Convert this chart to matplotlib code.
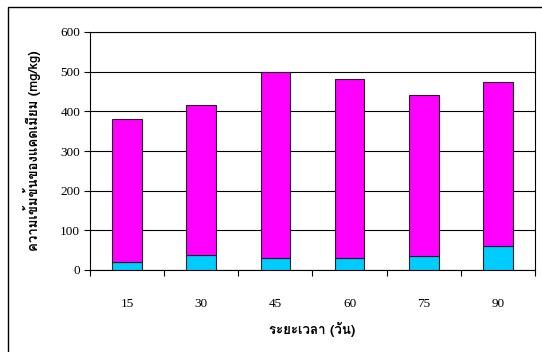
import matplotlib
matplotlib.use("Agg")
import matplotlib.pyplot as plt
from matplotlib import font_manager
from matplotlib.ft2font import FT2Font
from matplotlib.patches import Rectangle
import numpy as np

days = ["15", "30", "45", "60", "75", "90"]
cd_bottom = [20, 39, 31, 29, 35, 60]
cd_total = [380, 417, 498, 481, 442, 475]
cd_top = [t - b for t, b in zip(cd_total, cd_bottom)]
yticks = [0, 100, 200, 300, 400, 500, 600]


def thai_font():
    # pick the first installed font that has Thai glyphs
    for f in font_manager.fontManager.ttflist:
        try:
            if FT2Font(f.fname).get_char_index(ord("ก")):
                return f.name
        except Exception:
            pass
    return "DejaVu Sans"


thai = thai_font()
plt.rcParams["font.family"] = ["Liberation Serif", thai]

fig = plt.figure(figsize=(5.42, 3.52), dpi=100)
ax = fig.add_axes([90 / 542, 1 - 270 / 352, 445 / 542, 238 / 352])

x = np.arange(len(days))
ax.bar(x, cd_bottom, width=0.4, color="#00CCFF", edgecolor="#222222", linewidth=0.8, zorder=3)
ax.bar(x, cd_top, bottom=cd_bottom, width=0.4, color="#FF00FF", edgecolor="#222222", linewidth=0.8, zorder=3)

ax.set_xlim(-0.5, len(days) - 0.5)
ax.set_ylim(0, 600)
ax.set_yticks(yticks)
ax.yaxis.grid(True, color="black", linewidth=0.8, zorder=0)

ax.set_xticks(x)
ax.set_xticklabels(days, fontsize=9.5)
ax.set_xticks(np.arange(len(days) + 1) - 0.5, minor=True)
ax.tick_params(axis="x", which="major", length=0, pad=20)
ax.tick_params(axis="x", which="minor", length=4, direction="out", width=0.8)
ax.tick_params(axis="y", length=4, width=0.8, labelsize=9.5, pad=3)
for s in ax.spines.values():
    s.set_linewidth(0.8)

ax.set_ylabel("ความเข้มข้นของแคดเมียม (mg/kg)", fontsize=9.5, fontweight="bold",
              family=[thai, "Liberation Serif"], labelpad=14)
ax.set_xlabel("ระยะเวลา (วัน)", fontsize=9.5, fontweight="bold",
              family=[thai, "Liberation Serif"], labelpad=9)

# outer chart frame
fig.patches.append(Rectangle((8 / 542, -0.1), 1.2, 1 - 7 / 352 + 0.1,
                             transform=fig.transFigure, fill=False,
                             edgecolor="black", linewidth=1))

fig.savefig("out.png", dpi=100)
